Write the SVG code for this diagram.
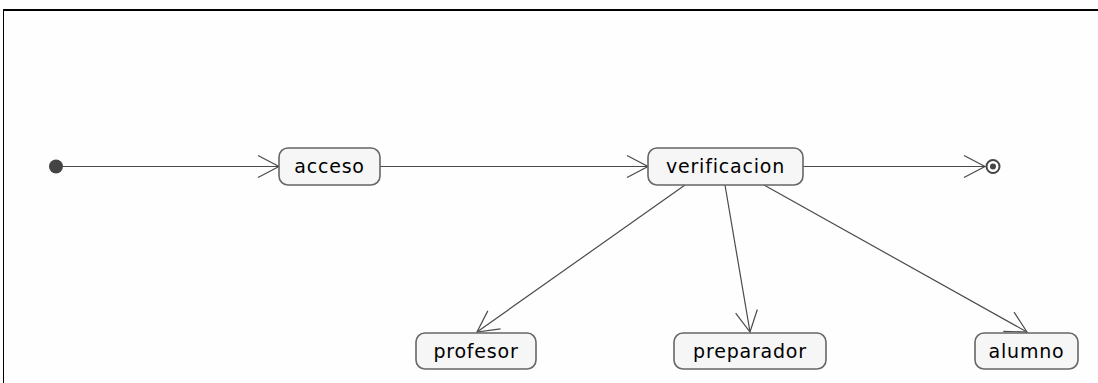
<svg xmlns="http://www.w3.org/2000/svg" width="1098" height="383" viewBox="0 0 1098 383">
<style>
.st rect{fill:#f6f6f6;stroke:#666;stroke-width:1.6}
.st text{font-family:"DejaVu Sans",sans-serif;font-size:19px;letter-spacing:0.8px;fill:#000;text-anchor:middle}
.edge{stroke:#4a4a4a;stroke-width:1.2;fill:none;marker-end:url(#arr)}
</style>
<defs>
<marker id="arr" markerUnits="userSpaceOnUse" markerWidth="30" markerHeight="30" viewBox="-25 -15 30 30" refX="0" refY="0" orient="auto">
<path d="M-21,-11 L0,0 L-21,11" fill="none" stroke="#4a4a4a" stroke-width="1.2"/>
</marker>
</defs>
<rect x="0" y="0" width="1098" height="383" fill="#fefefe"/>
<path d="M3,10 H1098" stroke="#000" stroke-width="2"/>
<path d="M3.5,9 V383" stroke="#000" stroke-width="1"/>
<g id="connectors">
<path class="edge" d="M63,166.5 H279"/>
<path class="edge" d="M380,166.5 H648"/>
<path class="edge" d="M803,166.5 H985"/>
<path class="edge" d="M685,185 L477,332"/>
<path class="edge" d="M725,185 L750,332"/>
<path class="edge" d="M764,185 L1027,332"/>
</g>
<g id="start"><circle cx="56" cy="166.5" r="7" fill="#444"/></g>
<g id="acceso" class="st"><rect x="279" y="148" width="101" height="37" rx="9"/><text x="329.5" y="173">acceso</text></g>
<g id="verificacion" class="st"><rect x="648" y="148" width="155" height="37" rx="9"/><text x="725.5" y="173">verificacion</text></g>
<g id="end"><circle cx="993" cy="166.5" r="6.5" fill="#fefefe" stroke="#444" stroke-width="2"/><circle cx="993" cy="166.5" r="3" fill="#444"/></g>
<g id="profesor" class="st"><rect x="416" y="333" width="120" height="36" rx="9"/><text x="476" y="357.5">profesor</text></g>
<g id="preparador" class="st"><rect x="674" y="333" width="152" height="36" rx="9"/><text x="750" y="357.5">preparador</text></g>
<g id="alumno" class="st"><rect x="975" y="333" width="103" height="36" rx="9"/><text x="1026.5" y="357.5">alumno</text></g>
</svg>
